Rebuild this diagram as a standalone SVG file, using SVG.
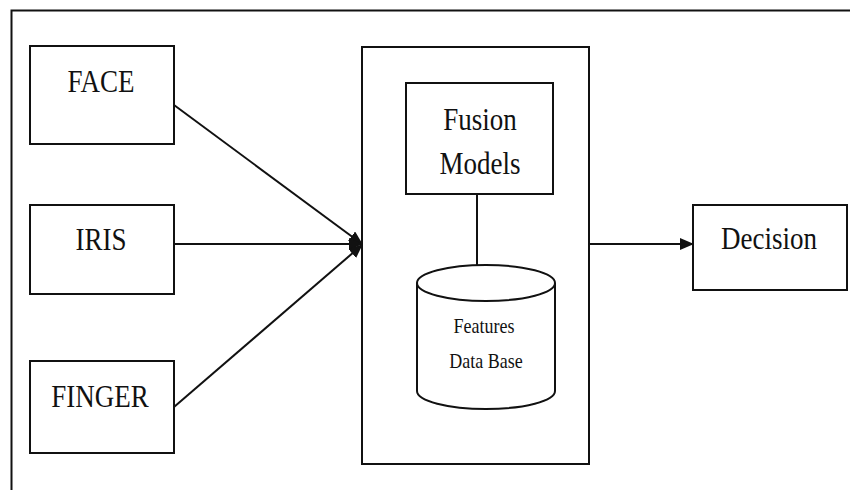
<svg xmlns="http://www.w3.org/2000/svg" width="850" height="490" viewBox="0 0 850 490">
<defs>
<style>
.box{fill:#fff;stroke:#111;stroke-width:2}
.frame{fill:none;stroke:#111;stroke-width:2}
.lbl{font-family:"Liberation Serif","Times New Roman",serif;font-size:27px;fill:#111;text-anchor:middle}
.sm{font-family:"Liberation Serif","Times New Roman",serif;font-size:18px;fill:#111;text-anchor:middle}
.conn{stroke:#111;stroke-width:2;fill:none}
</style>
<marker id="ah" viewBox="0 0 14 12" refX="13" refY="6" markerWidth="14" markerHeight="12" markerUnits="userSpaceOnUse" orient="auto">
<path d="M0,0 L14,6 L0,12 Z" fill="#111"/>
</marker>
</defs>
<rect width="850" height="490" fill="#fff"/>
<rect class="frame" x="11.5" y="10.5" width="850" height="500"/>
<g id="face"><rect class="box" x="30" y="46" width="144" height="98"/><text class="lbl" transform="translate(101,92) scale(1,1.2)">FACE</text></g>
<g id="iris"><rect class="box" x="30" y="205" width="144" height="89"/><text class="lbl" transform="translate(101,250) scale(1,1.2)">IRIS</text></g>
<g id="finger"><rect class="box" x="30" y="361" width="144" height="92"/><text class="lbl" transform="translate(100,407) scale(1,1.2)">FINGER</text></g>
<g id="center"><rect class="box" x="362" y="47" width="227" height="417"/></g>
<g id="fusion"><rect class="box" x="406" y="83" width="147" height="111"/><text class="lbl" transform="translate(480,130) scale(1,1.2)">Fusion</text><text class="lbl" transform="translate(480,174) scale(1,1.2)">Models</text></g>
<g id="db">
<path class="box" d="M417,283 L417,391 A69,18 0 0 0 555,391 L555,283"/>
<ellipse class="box" cx="486" cy="283" rx="69" ry="18"/>
<text class="sm" transform="translate(484,333) scale(1,1.15)">Features</text><text class="sm" transform="translate(486,368) scale(1,1.15)">Data Base</text>
</g>
<g id="decision"><rect class="box" x="693" y="205" width="154" height="85"/><text class="lbl" transform="translate(769,249) scale(1,1.2)">Decision</text></g>
<g id="connectors">
<line class="conn" x1="174" y1="105" x2="362" y2="244" marker-end="url(#ah)"/>
<line class="conn" x1="174" y1="244" x2="362" y2="244" marker-end="url(#ah)"/>
<line class="conn" x1="174" y1="407" x2="362" y2="245" marker-end="url(#ah)"/>
<line class="conn" x1="477" y1="194" x2="477" y2="265"/>
<line class="conn" x1="589" y1="244" x2="693" y2="244" marker-end="url(#ah)"/>
</g>
</svg>
